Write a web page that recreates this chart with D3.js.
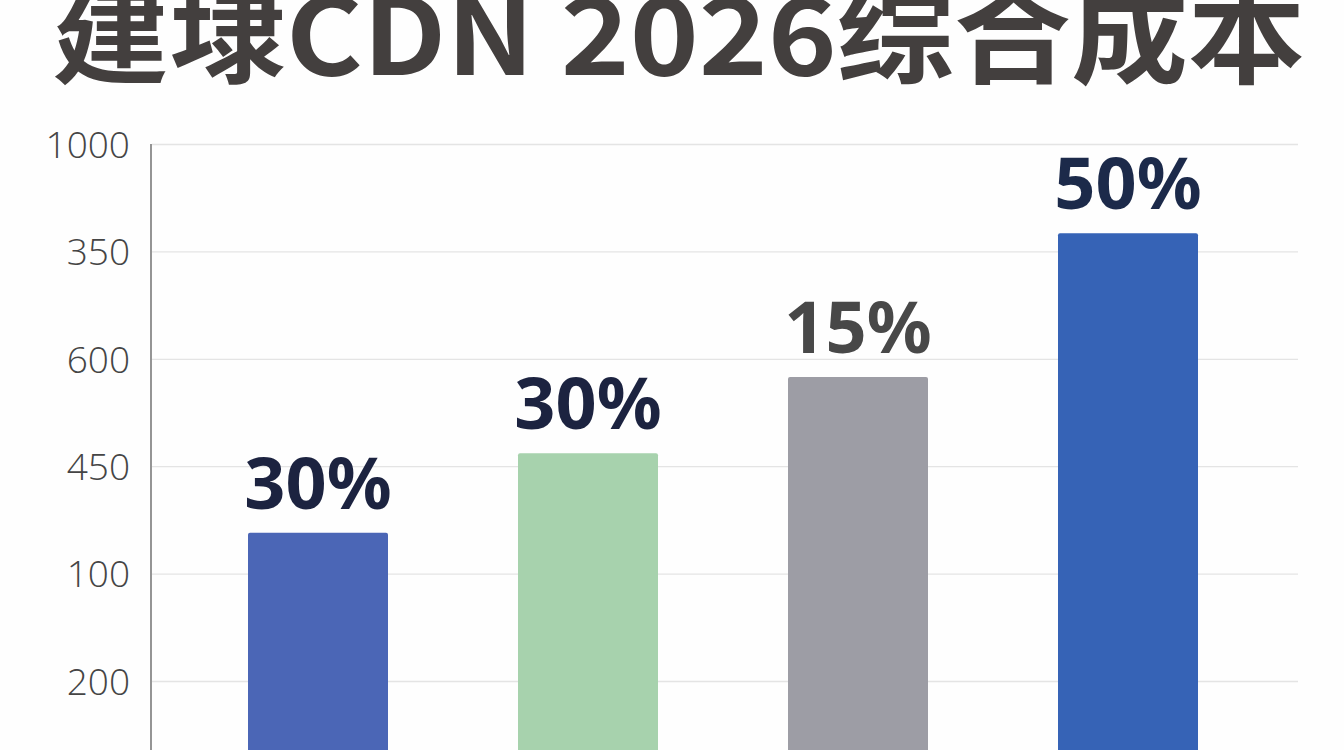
<!DOCTYPE html>
<html><head><meta charset="utf-8">
<script src="https://cdn.jsdelivr.net/npm/d3@7/dist/d3.min.js"></script>
<style>html,body{margin:0;padding:0;background:#fefefe;overflow:hidden}</style>
</head><body><svg id="c" width="1344" height="750"></svg>
<script>
const title = "建埭CDN 2026综合成本";
const categories = ["A", "B", "C", "D"];
const values = [1.38, 2.12, 2.83, 4.17];
const valueLabels = ["30%", "30%", "15%", "50%"];
const tickPositions = [0, 1, 2, 3, 4, 5];
const tickLabels = ["200", "100", "450", "600", "350", "1000"];
const barColors = ["#4b66b6", "#a7d2ad", "#9d9da5", "#3663b6"];
const labelColors = ["#1c2340", "#1c2340", "#484848", "#1c2a4a"];

const svg = d3.select("#c");
const y = d3.scaleLinear().domain([0, 5]).range([681, 144]);
const x = d3.scalePoint().domain(categories).range([318, 1128]);
const barW = 140;

svg.append("text").attr("x", 52).attr("y", 75)
  .attr("font-family", "'Noto Sans CJK SC', 'Noto Sans', sans-serif")
  .attr("font-weight", 700).attr("font-size", 108).attr("fill", "#433f3e")
  .attr("textLength", 1253).attr("lengthAdjust", "spacingAndGlyphs")
  .text(title);

// gridlines
const grid = d3.axisLeft(y).tickValues(tickPositions).tickSize(-(1298 - 152)).tickFormat("");
svg.append("g").attr("transform", "translate(152,0)").call(grid)
  .call(g => g.select(".domain").remove())
  .call(g => g.selectAll("line").attr("stroke", "#e4e4e4").attr("stroke-width", 1.3));

// y axis labels
const yAxis = d3.axisLeft(y).tickValues(tickPositions).tickSize(0).tickPadding(22)
  .tickFormat((d, i) => tickLabels[i]);
svg.append("g").attr("transform", "translate(152,0)").call(yAxis)
  .call(g => g.select(".domain").remove())
  .call(g => g.selectAll("text").attr("font-family", "'Open Sans', sans-serif")
    .attr("font-weight", 300)
    .attr("font-size", 37).attr("fill", "#454545").attr("dy", "0.36em"));

// axis line
svg.append("line").attr("x1", 151).attr("x2", 151).attr("y1", y(5)).attr("y2", 750)
  .attr("stroke", "#7a7a7a").attr("stroke-width", 1.6);

// bars
svg.append("g").selectAll("rect").data(values).join("rect")
  .attr("x", (d, i) => x(categories[i]) - barW / 2)
  .attr("width", barW)
  .attr("y", d => y(d))
  .attr("height", d => y(-1) - y(d))
  .attr("rx", 2)
  .attr("fill", (d, i) => barColors[i]);

// value labels
svg.append("g").selectAll("text").data(values).join("text")
  .attr("x", (d, i) => x(categories[i]))
  .attr("y", d => y(d) - 24)
  .attr("text-anchor", "middle")
  .attr("font-family", "'Noto Sans', sans-serif")
  .attr("font-weight", 700).attr("font-size", 72)
  .attr("fill", (d, i) => labelColors[i])
  .text((d, i) => valueLabels[i]);
</script></body></html>
